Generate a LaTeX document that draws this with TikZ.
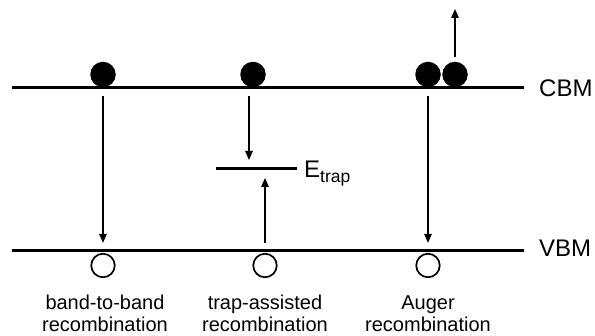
\documentclass[tikz,border=0pt]{standalone}
\usepackage{fontspec}
\setmainfont{Liberation Sans}
\usetikzlibrary{arrows.meta}
\begin{document}
\begin{tikzpicture}[x=1pt,y=-1pt,
  band/.style={line width=3pt},
  elec/.style={circle,fill=black,minimum size=25.5pt,inner sep=0pt},
  hole/.style={circle,draw=black,line width=1.7pt,minimum size=23.5pt,inner sep=0pt},
  trans/.style={line width=1.3pt,-{Triangle[length=9pt,width=7.5pt]}},
  lbl/.style={font=\fontsize{20}{22.5}\selectfont,align=center,anchor=base,inner sep=0pt},
  bandlbl/.style={font=\fontsize{24}{28}\selectfont,anchor=west,inner sep=0pt}]
\useasboundingbox (0,0) rectangle (595,336);

% band edges
\coordinate (cbmL) at (12,88);
\coordinate (cbmR) at (524,88);
\coordinate (vbmL) at (12,251);
\coordinate (vbmR) at (524,251);
\draw[band] (cbmL) -- (cbmR);
\draw[band] (vbmL) -- (vbmR);
\node[bandlbl] (cbm) at (539,88) {CBM};
\node[bandlbl] (vbm) at (539,248) {VBM};

% trap level
\coordinate (trapL) at (216,169);
\coordinate (trapR) at (297,169);
\draw[band] (trapL) -- (trapR);
\node[font=\fontsize{24}{28}\selectfont,anchor=base west,inner sep=0pt] (etrap) at (304,178)
  {E\raisebox{-5pt}{\fontsize{17.5}{20}\selectfont trap}};

% electrons in the conduction band
\node[elec] (e1) at (103,74.5) {};
\node[elec] (e2) at (253,74.5) {};
\node[elec] (e3) at (428,74.5) {};
\node[elec] (e4) at (455,74.5) {};

% holes in the valence band
\node[hole] (h1) at (103,265.5) {};
\node[hole] (h2) at (265,265.5) {};
\node[hole] (h3) at (428,265.5) {};

% transitions
\draw[trans] ([yshift=-9pt]e1.south) -- ([yshift=10pt]h1.north);
\coordinate (trapin) at (249,160);
\draw[trans] ([xshift=-4pt,yshift=-9pt]e2.south) -- (trapin);
\coordinate (trapout) at (265,178);
\draw[trans] ([yshift=10pt]h2.north) -- (trapout);
\draw[trans] ([yshift=-9pt]e3.south) -- ([yshift=10pt]h3.north);
\coordinate (escape) at (455,9);
\draw[trans] ([yshift=5pt]e4.north) -- (escape);

% process labels (anchored at the baseline of the last line)
\node[lbl] (l1) at (105,332) {band-to-band\\recombination};
\node[lbl] (l2) at (265,332) {trap-assisted\\recombination};
\node[lbl] (l3) at (428,332) {Auger\\recombination};
\end{tikzpicture}
\end{document}
